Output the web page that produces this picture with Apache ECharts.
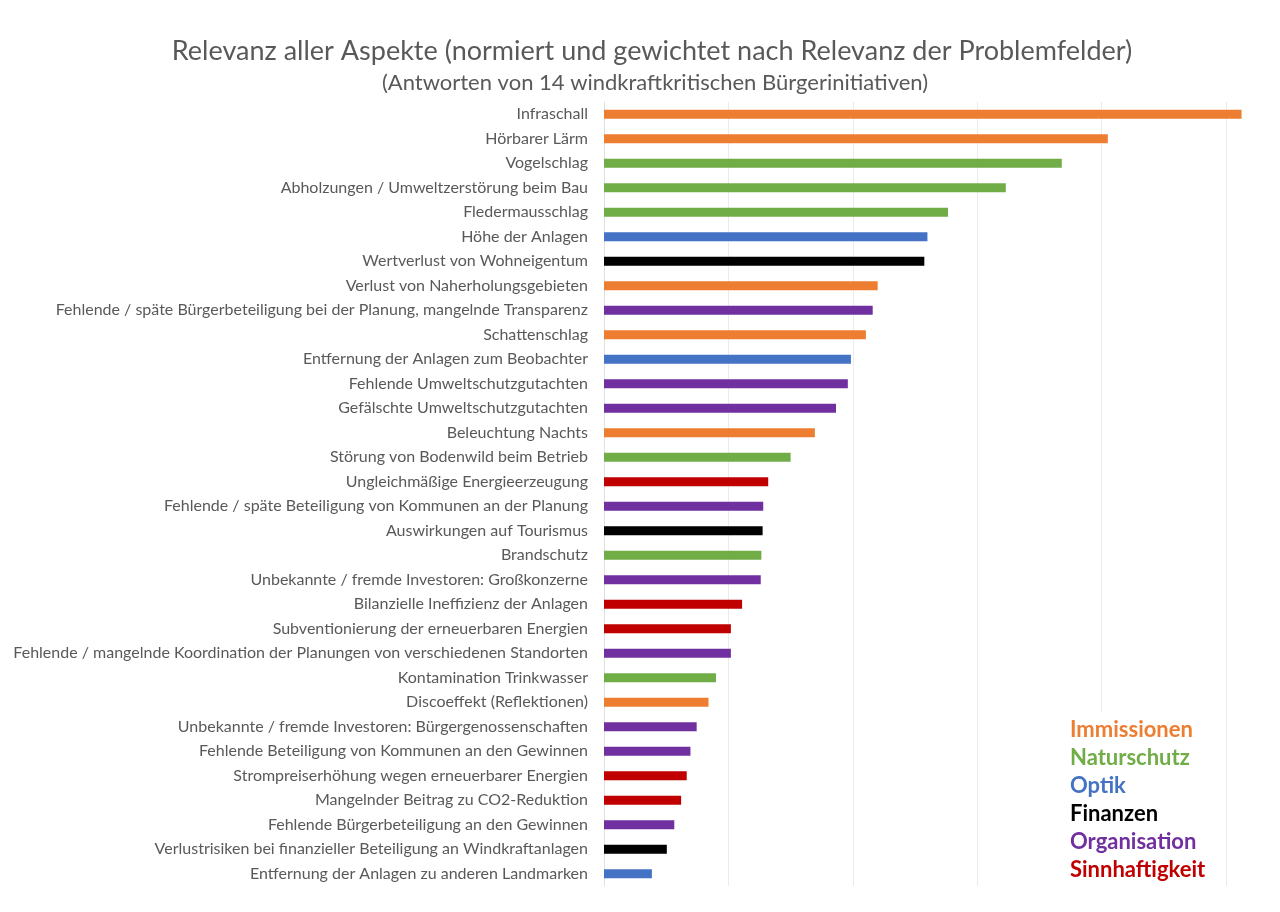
<!DOCTYPE html>
<html lang="de">
	<head>
		<meta charset="utf-8">
		<title>Relevanz aller Aspekte</title>
		<script src="https://cdn.jsdelivr.net/npm/echarts@6/dist/echarts.min.js"></script>
		<style>
			html, body { margin: 0; padding: 0; background: #fff; }
			#chart { width: 1280px; height: 912px; }
		</style>
	</head>
	<body>
		<div id="chart"></div>
		<script>
			// Kategorien von oben nach unten
			var categories = [
				"Infraschall",
				"Hörbarer Lärm",
				"Vogelschlag",
				"Abholzungen / Umweltzerstörung beim Bau",
				"Fledermausschlag",
				"Höhe der Anlagen",
				"Wertverlust von Wohneigentum",
				"Verlust von Naherholungsgebieten",
				"Fehlende / späte Bürgerbeteiligung bei der Planung, mangelnde Transparenz",
				"Schattenschlag",
				"Entfernung der Anlagen zum Beobachter",
				"Fehlende Umweltschutzgutachten",
				"Gefälschte Umweltschutzgutachten",
				"Beleuchtung Nachts",
				"Störung von Bodenwild beim Betrieb",
				"Ungleichmäßige Energieerzeugung",
				"Fehlende / späte Beteiligung von Kommunen an der Planung",
				"Auswirkungen auf Tourismus",
				"Brandschutz",
				"Unbekannte / fremde Investoren: Großkonzerne",
				"Bilanzielle Ineffizienz der Anlagen",
				"Subventionierung der erneuerbaren Energien",
				"Fehlende / mangelnde Koordination der Planungen von verschiedenen Standorten",
				"Kontamination Trinkwasser",
				"Discoeffekt (Reflektionen)",
				"Unbekannte / fremde Investoren: Bürgergenossenschaften",
				"Fehlende Beteiligung von Kommunen an den Gewinnen",
				"Strompreiserhöhung wegen erneuerbarer Energien",
				"Mangelnder Beitrag zu CO2-Reduktion",
				"Fehlende Bürgerbeteiligung an den Gewinnen",
				"Verlustrisiken bei finanzieller Beteiligung an Windkraftanlagen",
				"Entfernung der Anlagen zu anderen Landmarken"
			];

			// normierte Relevanz
			var values = [
				1.025, 0.810, 0.736, 0.646, 0.553, 0.520, 0.515, 0.440,
				0.432, 0.421, 0.397, 0.392, 0.373, 0.339, 0.300, 0.264,
				0.256, 0.255, 0.253, 0.252, 0.222, 0.204, 0.204, 0.180,
				0.168, 0.149, 0.139, 0.133, 0.124, 0.113, 0.101, 0.077
			];

			// Problemfeld je Kategorie
			var groups = [
				"Immissionen", "Immissionen", "Naturschutz", "Naturschutz", "Naturschutz", "Optik", "Finanzen", "Immissionen",
				"Organisation", "Immissionen", "Optik", "Organisation", "Organisation", "Immissionen", "Naturschutz", "Sinnhaftigkeit",
				"Organisation", "Finanzen", "Naturschutz", "Organisation", "Sinnhaftigkeit", "Sinnhaftigkeit", "Organisation", "Naturschutz",
				"Immissionen", "Organisation", "Organisation", "Sinnhaftigkeit", "Sinnhaftigkeit", "Organisation", "Finanzen", "Optik"
			];

			var groupNames = ["Immissionen", "Naturschutz", "Optik", "Finanzen", "Organisation", "Sinnhaftigkeit"];

			var groupColors = {
				"Immissionen": "#ED7D31",
				"Naturschutz": "#70AD47",
				"Optik": "#4472C4",
				"Finanzen": "#000000",
				"Organisation": "#7030A0",
				"Sinnhaftigkeit": "#C00000"
			};

			var barData = values.map(function (v, i) {
				return { value: v, itemStyle: { color: groupColors[groups[i]] } };
			});

			// Legende als farbiger Text, mit weissem Kasten dahinter
			var legendItems = [{
				type: 'rect',
				left: 1062,
				top: 712,
				shape: { width: 155, height: 176 },
				style: { fill: '#ffffff' },
				z: 50
			}];
			groupNames.forEach(function (g, i) {
				legendItems.push({
					type: 'text',
					left: 1070,
					top: 719 + i * 28,
					z: 51,
					style: {
						text: g,
						fill: groupColors[g],
						font: 'bold 22px Lato, "Open Sans", sans-serif'
					}
				});
			});

			var myChart = echarts.init(document.getElementById('chart'));
			var option = {
				backgroundColor: '#ffffff',
				textStyle: { fontFamily: 'Lato, "Open Sans", sans-serif' },
				title: [{
					text: 'Relevanz aller Aspekte (normiert und gewichtet nach Relevanz der Problemfelder)',
					left: 647,
					top: 33,
					textAlign: 'center',
					textStyle: { color: '#595959', fontSize: 27, fontWeight: 'normal' }
				}, {
					text: '(Antworten von 14 windkraftkritischen Bürgerinitiativen)',
					left: 650,
					top: 67,
					textAlign: 'center',
					textStyle: { color: '#595959', fontSize: 22, fontWeight: 'normal' }
				}],
				grid: {
					left: 604,
					right: 54,
					top: 102,
					bottom: 26,
					containLabel: false
				},
				xAxis: {
					type: 'value',
					min: 0,
					max: 1,
					interval: 0.2,
					axisLabel: { show: false },
					axisLine: { show: false },
					axisTick: { show: false },
					splitLine: { lineStyle: { color: '#ebebeb', width: 1 } }
				},
				yAxis: {
					type: 'category',
					inverse: true,
					data: categories,
					axisLine: { lineStyle: { color: '#e0e0e0' } },
					axisTick: { show: false },
					axisLabel: { color: '#595959', fontSize: 16, margin: 16 }
				},
				series: [{
					type: 'bar',
					data: barData,
					barWidth: 9,
					clip: false
				}],
				graphic: legendItems
			};
			myChart.setOption(option);
		</script>
	</body>
</html>
